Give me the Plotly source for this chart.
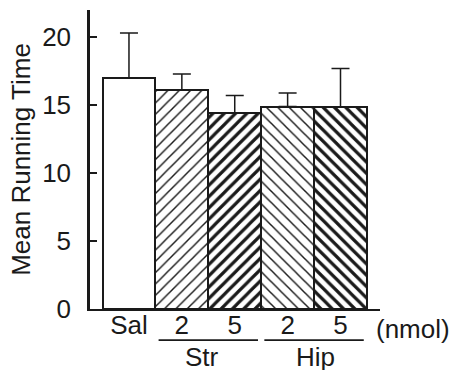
import plotly.graph_objects as go

# ---- data ----
categories = ["Sal", "2", "5", "2", "5"]
means = [17.0, 16.1, 14.4, 14.9, 14.85]
errors = [3.3, 1.2, 1.3, 1.0, 2.85]
groups = ["Str", "Hip"]
group_centers = [1.5, 3.5]
group_label_x = [1.39, 3.53]
unit_label = "(nmol)"
y_title = "Mean Running Time"
y_ticks = [0, 5, 10, 15, 20]

# ---- styles ----
FONT = "Liberation Sans, Arial, Helvetica, sans-serif"
INK = "#1a1a1a"
shapes_pat = ["", "/", "/", "\\", "\\"]
solidity = [0.0, 0.18, 0.4, 0.18, 0.4]

x = list(range(len(categories)))

fig = go.Figure()
fig.add_trace(go.Bar(
    x=x, y=means, width=1.0,
    marker=dict(
        color="white",
        line=dict(color=INK, width=2),
        pattern=dict(shape=shapes_pat, solidity=solidity, size=8,
                     fgcolor=INK, bgcolor="white", fgopacity=1,
                     fillmode="replace"),
    ),
    error_y=dict(type="data", array=errors, arrayminus=[0] * len(errors),
                 symmetric=False, color=INK, thickness=1.5, width=9),
    showlegend=False,
))

shapes = []
annotations = []
for g, c, lx in zip(groups, group_centers, group_label_x):
    shapes.append(dict(type="line", xref="x", yref="paper",
                       x0=c - 0.94, x1=c + 0.94, y0=-0.104, y1=-0.104,
                       line=dict(color=INK, width=1.8)))
    annotations.append(dict(text=g, xref="x", yref="paper", x=lx, y=-0.103,
                            yanchor="top", xanchor="center", showarrow=False,
                            font=dict(size=26, family=FONT, color=INK)))
annotations.append(dict(text=unit_label, xref="paper", yref="paper", x=1.115, y=-0.01,
                        yanchor="top", xanchor="center", showarrow=False,
                        font=dict(size=26, family=FONT, color=INK)))

fig.update_layout(
    width=459, height=370,
    margin=dict(l=90, r=79, t=10, b=61),
    paper_bgcolor="white", plot_bgcolor="white",
    font=dict(family=FONT, size=26, color=INK),
    bargap=0,
    shapes=shapes,
    annotations=annotations,
    xaxis=dict(range=[-0.737, 4.747], tickvals=x, ticktext=categories,
               showline=True, linecolor=INK, linewidth=2, ticks="",
               showgrid=False, zeroline=False, tickfont=dict(size=26),
               automargin=False, ticklabelstandoff=-8),
    yaxis=dict(range=[0, 22], tickvals=y_ticks, showline=True, linecolor=INK,
               linewidth=2.5, ticks="inside", ticklen=7, tickwidth=1.5,
               tickcolor=INK, showgrid=False, zeroline=False,
               ticklabelstandoff=11, tickfont=dict(size=26), automargin=False,
               title=dict(text=y_title, font=dict(size=26), standoff=5)),
)

fig.write_html("out.html", config={"displayModeBar": False},
               post_script="document.body.style.margin='0';document.body.style.overflow='hidden';")
